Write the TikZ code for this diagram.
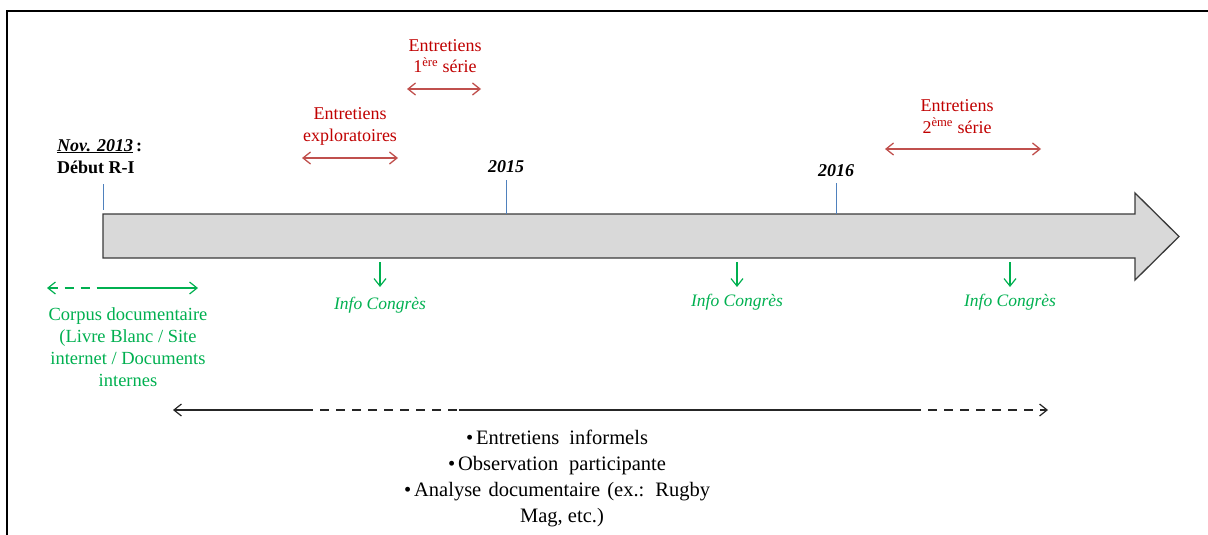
\documentclass[tikz,border=0pt]{standalone}
\usepackage{fontspec}
\setmainfont{Liberation Serif}
\usetikzlibrary{arrows.meta}
\definecolor{rtext}{HTML}{C00000}
\definecolor{rline}{HTML}{C0504D}
\definecolor{gr}{HTML}{00B050}
\definecolor{bl}{HTML}{4F81BD}
\definecolor{afill}{HTML}{D9D9D9}
\definecolor{aline}{HTML}{3A3A3A}
\definecolor{bline}{HTML}{262626}
\tikzset{gtip/.tip={Straight Barb[length=7.5pt,width=12pt]}}
\begin{document}
\begin{tikzpicture}[x=1pt,y=-1pt,
  redtxt/.style={text=rtext, font=\fontsize{18}{21.5}\selectfont, align=center, inner sep=0pt, anchor=base},
  redarr/.style={draw=rline, line width=1.3pt, {gtip}-{gtip}},
  blacktxt/.style={font=\fontsize{18}{21}\selectfont\bfseries, inner sep=0pt},
  tick/.style={draw=bl, line width=1pt},
  gtxt/.style={text=gr, font=\fontsize{18.5}{22}\selectfont, align=center, inner sep=0pt, anchor=base},
  infotxt/.style={text=gr, font=\fontsize{17.5}{21}\selectfont\itshape, inner sep=0pt, anchor=base},
  garr/.style={draw=gr, line width=1.2pt},
  barr/.style={draw=bline, line width=1.2pt},
  dsh/.style={dash pattern=on 9pt off 7pt},
  btxt/.style={font=\fontsize{20.5}{26}\selectfont, align=center, inner sep=0pt, anchor=base}
]
\useasboundingbox (0,0) rectangle (1208,535);
% frame
\draw[line width=1.5pt] (1208,11) -- (7,11) -- (7,535);
% main timeline arrow
\draw[fill=afill, draw=aline, line width=1.3pt, line join=miter]
  (103,214) -- (1135,214) -- (1135,193) -- (1179,236.5) -- (1135,280) -- (1135,258) -- (103,258) -- cycle;
% start label and ticks
\node[blacktxt, anchor=base west] (nov) at (57,151) {\textit{\underline{Nov. 2013}}\,:};
\node[blacktxt, anchor=base west] (debut) at (57,173) {Début R-I};
\node[blacktxt, anchor=base] (y15) at (506,172) {\itshape 2015};
\node[blacktxt, anchor=base] (y16) at (836,176) {\itshape 2016};
\coordinate (t13a) at (103,184); \coordinate (t13b) at (103,210);
\coordinate (t15a) at (506,180); \coordinate (t15b) at (506,214);
\coordinate (t16a) at (836,183); \coordinate (t16b) at (836,214);
\draw[tick] (t13a) -- (t13b);
\draw[tick] (t15a) -- (t15b);
\draw[tick] (t16a) -- (t16b);
% red interview labels (anchor base = last line baseline)
\node[redtxt] (e1) at (445,73) {Entretiens\\1\textsuperscript{ère} série};
\coordinate (e1a) at (407,89); \coordinate (e1b) at (481,89);
\draw[redarr] (e1a) -- (e1b);
\node[redtxt] (ex) at (350,141) {Entretiens\\exploratoires};
\coordinate (exa) at (302,158); \coordinate (exb) at (398,158);
\draw[redarr] (exa) -- (exb);
\node[redtxt] (e2) at (957,133) {Entretiens\\2\textsuperscript{ème} série};
\coordinate (e2a) at (885,149); \coordinate (e2b) at (1041,149);
\draw[redarr] (e2a) -- (e2b);
% corpus
\coordinate (c0) at (47,288); \coordinate (c1) at (103,288); \coordinate (c2) at (198,288);
\draw[garr, dsh, {gtip}-] (c0) -- (c1);
\draw[garr, -{gtip}] (c1) -- (c2);
\node[gtxt] (corpus) at (128,386) {Corpus documentaire\\(Livre Blanc / Site\\internet / Documents\\internes};
% info congres
\coordinate (i1a) at (380,262); \coordinate (i1b) at (380,287);
\coordinate (i2a) at (737,262); \coordinate (i2b) at (737,287);
\coordinate (i3a) at (1010,262); \coordinate (i3b) at (1010,287);
\draw[garr, -{gtip}] (i1a) -- (i1b);
\draw[garr, -{gtip}] (i2a) -- (i2b);
\draw[garr, -{gtip}] (i3a) -- (i3b);
\node[infotxt] (ic1) at (380,309) {Info Congrès};
\node[infotxt] (ic2) at (737,306) {Info Congrès};
\node[infotxt] (ic3) at (1010,306) {Info Congrès};
% bottom arrow
\coordinate (b0) at (173,410); \coordinate (b1) at (304,410); \coordinate (b2) at (459,410);
\coordinate (b3) at (912,410); \coordinate (b4) at (1048,410);
\draw[barr, {gtip}-] (b0) -- (b1);
\draw[barr, dsh] (b1) -- (b2);
\draw[barr] (b2) -- (b3);
\draw[barr, dsh, -{gtip}] (b3) -- (b4);
\node[btxt] (methods) at (557,522) {\makebox[182pt][s]{\textbullet\kern3pt Entretiens informels}\\
  \makebox[218pt][s]{\textbullet\kern3pt Observation participante}\\
  \makebox[306pt][s]{\textbullet\kern3pt Analyse documentaire (ex.: Rugby}\\
  \hspace*{10pt}Mag, etc.)};
\end{tikzpicture}
\end{document}
